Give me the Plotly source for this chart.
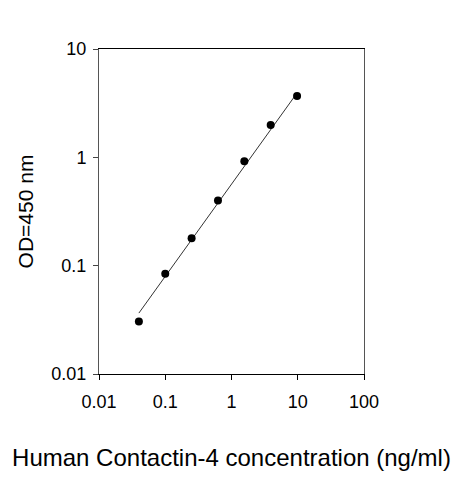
import plotly.graph_objects as go

# Standard curve readings (concentration in ng/ml vs OD at 450 nm)
concentration = [0.04, 0.1, 0.25, 0.625, 1.5625, 3.906, 9.766]
od_450 = [0.0306, 0.084, 0.179, 0.40, 0.92, 1.99, 3.68]

# Fitted curve end points
fit_conc = [0.04, 9.766]
fit_od = [0.0365, 3.93]

x_ticks = [0.01, 0.1, 1, 10, 100]
x_tick_labels = ["0.01", "0.1", "1", "10", "100"]
y_ticks = [0.01, 0.1, 1, 10]
y_tick_labels = ["0.01", "0.1", "1", "10"]

fig = go.Figure()

fig.add_trace(go.Scatter(
    x=fit_conc, y=fit_od,
    mode="lines",
    line=dict(color="#333333", width=1),
    showlegend=False
))

fig.add_trace(go.Scatter(
    x=concentration, y=od_450,
    mode="markers",
    marker=dict(color="black", size=8),
    showlegend=False
))

font_name = "Liberation Sans, Arial, sans-serif"

# page body has an 8px margin, so the figure is a bit smaller than the window
fig.update_layout(
    width=455,
    height=472,
    margin=dict(l=91, r=99, t=41, b=106),
    paper_bgcolor="white",
    plot_bgcolor="white",
    font=dict(family=font_name, color="black"),
)

fig.update_xaxes(
    type="log",
    range=[-2, 2],
    tickvals=x_ticks,
    ticktext=x_tick_labels,
    ticks="outside",
    ticklen=5,
    tickcolor="black",
    tickfont=dict(size=18),
    ticklabelstandoff=6,
    showgrid=False,
    zeroline=False,
    showline=True,
    linecolor="black",
    linewidth=1,
    mirror=True,
    title=dict(text="Human Contactin-4 concentration (ng/ml)",
               font=dict(size=24), standoff=38),
)

fig.update_yaxes(
    type="log",
    range=[-2, 1],
    tickvals=y_ticks,
    ticktext=y_tick_labels,
    ticks="outside",
    ticklen=5,
    tickcolor="#444444",
    tickfont=dict(size=18),
    ticklabelstandoff=3,
    showgrid=False,
    zeroline=False,
    showline=True,
    linecolor="#555555",
    linewidth=1,
    mirror=True,
    title=dict(text="OD=450 nm", font=dict(size=21), standoff=12),
)

fig.write_html("out.html")
